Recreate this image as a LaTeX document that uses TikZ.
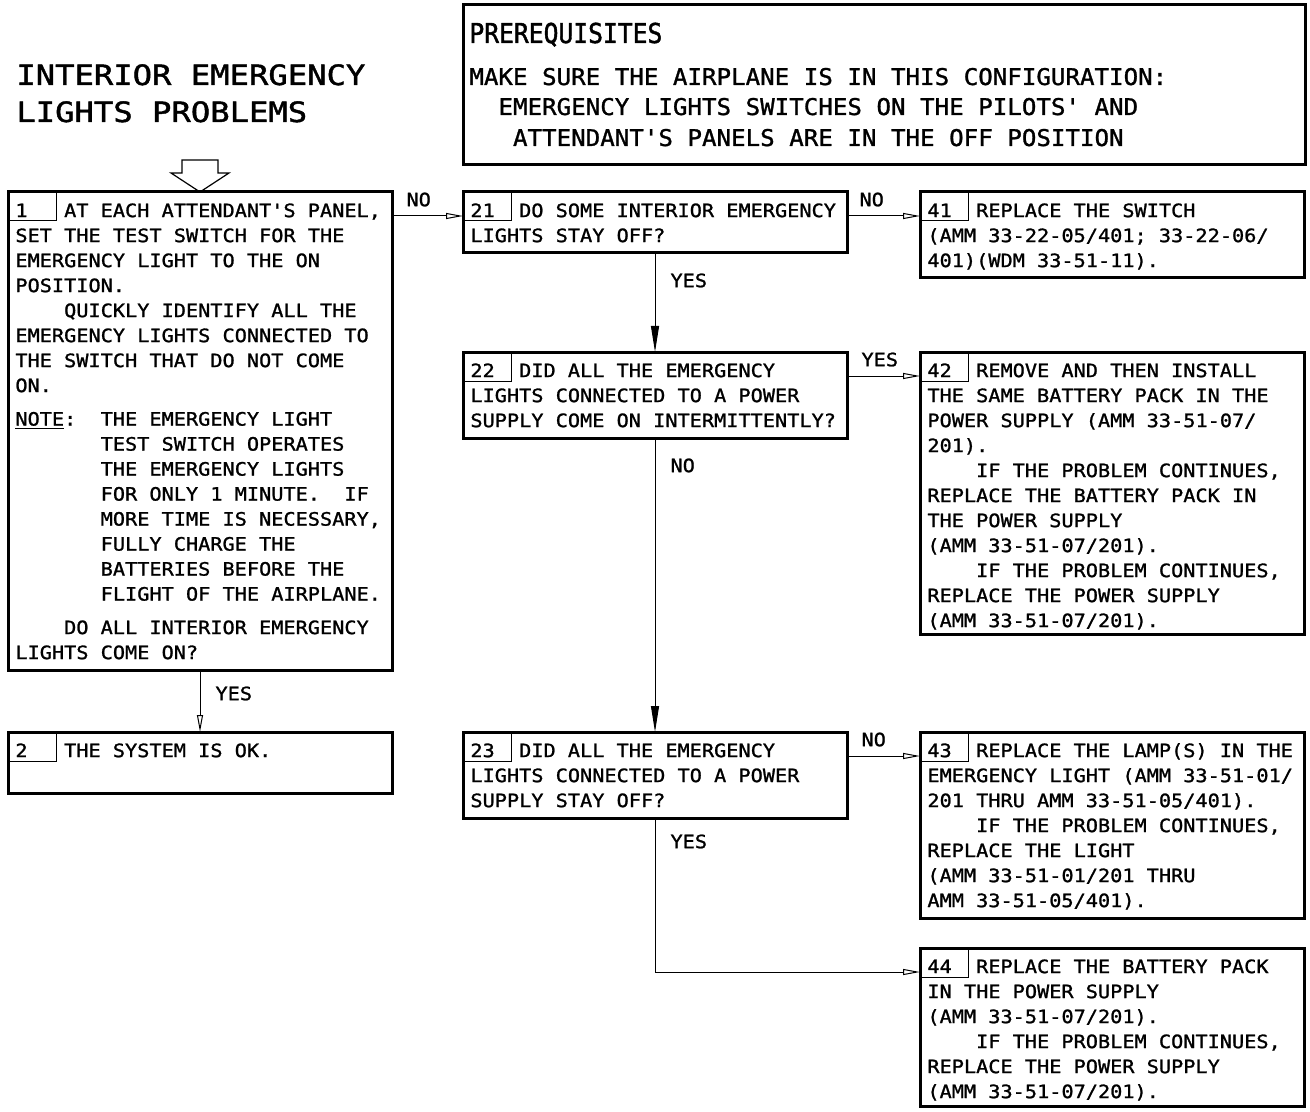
\documentclass[tikz,border=0pt]{standalone}
\usepackage{fontspec}
\usetikzlibrary{arrows.meta}
\newfontfamily\bodyfont[FakeStretch=1.1,FakeBold=1.2,Ligatures=TeXOff]{DejaVu Sans Mono}
\newfontfamily\titlefont[FakeStretch=1.15,FakeBold=1.5,Ligatures=TeXOff]{DejaVu Sans Mono}
\newfontfamily\prqfont[FakeStretch=1.05,FakeBold=1.2,Ligatures=TeXOff]{DejaVu Sans Mono}
\newfontfamily\prqhead[FakeStretch=0.9,FakeBold=1.5,Ligatures=TeXOff]{DejaVu Sans Mono}
\newcommand\cell[1]{\rlap{#1}\phantom{0000}}
\newcommand\ind{\phantom{0000}}
\newcommand\nind{\phantom{0000000}}
\newcommand\tstrut{\rule{0pt}{12.35pt}}
\frenchspacing

\begin{document}
\begin{tikzpicture}[x=0.5pt, y=-0.5pt,
  box/.style={draw, line width=1.5pt, inner sep=0pt, outer sep=0pt,
    minimum width=192pt, anchor=north west},
  txt/.style={inner sep=0pt, anchor=north west, align=left,
    font=\bodyfont\fontsize{9.2pt}{12.5pt}\selectfont},
  lbl/.style={inner sep=0pt, font=\bodyfont\fontsize{9.2pt}{12.5pt}\selectfont},
  link/.style={line width=0.5pt, -{Triangle[open, length=8.5pt, width=3pt]}},
  flow/.style={line width=0.5pt, -{Triangle[length=13pt, width=4pt]}},
  cellbox/.style={line width=0.5pt}]

  \fill[white] (0,0) rectangle (1310,1112);
  \useasboundingbox (0,0) rectangle (1310,1112);

  % heading and prerequisites
  \node[lbl, anchor=base west, font=\titlefont\fontsize{14pt}{18pt}\selectfont]
    (title1) at (16,85) {INTERIOR EMERGENCY};
  \node[lbl, anchor=base west, font=\titlefont\fontsize{14pt}{18pt}\selectfont]
    (title2) at (16,122) {LIGHTS PROBLEMS};

  \node[box, minimum width=421pt, minimum height=80pt] (prq) at (463,5) {};
  \node[lbl, anchor=base west, font=\prqhead\fontsize{13.7pt}{16pt}\selectfont]
    (prq1) at (469,43) {PREREQUISITES};
  \node[lbl, anchor=base west, font=\prqfont\fontsize{11.5pt}{14pt}\selectfont]
    (prq2) at (469,85) {MAKE SURE THE AIRPLANE IS IN THIS CONFIGURATION:};
  \node[lbl, anchor=base west, font=\prqfont\fontsize{11.5pt}{14pt}\selectfont]
    (prq3) at (469,115) {\phantom{00}EMERGENCY LIGHTS SWITCHES ON THE PILOTS' AND};
  \node[lbl, anchor=base west, font=\prqfont\fontsize{11.5pt}{14pt}\selectfont]
    (prq4) at (469,146) {\phantom{000}ATTENDANT'S PANELS ARE IN THE OFF POSITION};

  % first column
  \node[box, minimum height=239pt] (b1) at (8,192) {};
  \draw[cellbox] (b1.north west) rectangle ++(48,29);
  \node[txt] (t1) at ([xshift=3.5pt]b1.north west) {\tstrut\cell{1}AT EACH ATTENDANT'S PANEL,\\
    SET THE TEST SWITCH FOR THE\\
    EMERGENCY LIGHT TO THE ON\\
    POSITION.\\
    \ind QUICKLY IDENTIFY ALL THE\\
    EMERGENCY LIGHTS CONNECTED TO\\
    THE SWITCH THAT DO NOT COME\\
    ON.\\[4.25pt]
    \underline{NOTE}:\ \ THE EMERGENCY LIGHT\\
    \nind TEST SWITCH OPERATES\\
    \nind THE EMERGENCY LIGHTS\\
    \nind FOR ONLY 1 MINUTE.\ \ IF\\
    \nind MORE TIME IS NECESSARY,\\
    \nind FULLY CHARGE THE\\
    \nind BATTERIES BEFORE THE\\
    \nind FLIGHT OF THE AIRPLANE.\\[4.25pt]
    \ind DO ALL INTERIOR EMERGENCY\\
    LIGHTS COME ON?};
  \draw[line width=0.6pt] (b1.north) -- ++(29,-19) -- ++(-11,0) -- ++(0,-13)
    -- ++(-36,0) -- ++(0,13) -- ++(-11,0) -- cycle;

  \node[box, minimum height=30.5pt] (b2) at (8,732) {};
  \draw[cellbox] (b2.north west) rectangle ++(48,29);
  \node[txt] (t2) at ([xshift=3.5pt]b2.north west) {\tstrut\cell{2}THE SYSTEM IS OK.};

  % second column
  \node[box, minimum height=30.5pt] (b21) at (463,192) {};
  \draw[cellbox] (b21.north west) rectangle ++(48,29);
  \node[txt] (t21) at ([xshift=3.5pt]b21.north west) {\tstrut\cell{21}DO SOME INTERIOR EMERGENCY\\
    LIGHTS STAY OFF?};

  \node[box, minimum height=43pt] (b22) at (463,352) {};
  \draw[cellbox] (b22.north west) rectangle ++(48,29);
  \node[txt] (t22) at ([xshift=3.5pt]b22.north west) {\tstrut\cell{22}DID ALL THE EMERGENCY\\
    LIGHTS CONNECTED TO A POWER\\
    SUPPLY COME ON INTERMITTENTLY?};

  \node[box, minimum height=43pt] (b23) at (463,732) {};
  \draw[cellbox] (b23.north west) rectangle ++(48,29);
  \node[txt] (t23) at ([xshift=3.5pt]b23.north west) {\tstrut\cell{23}DID ALL THE EMERGENCY\\
    LIGHTS CONNECTED TO A POWER\\
    SUPPLY STAY OFF?};

  % third column
  \node[box, minimum height=43pt] (b41) at (920,192) {};
  \draw[cellbox] (b41.north west) rectangle ++(48,29);
  \node[txt] (t41) at ([xshift=3.5pt]b41.north west) {\tstrut\cell{41}REPLACE THE SWITCH\\
    (AMM 33-22-05/401; 33-22-06/\\
    401)(WDM 33-51-11).};

  \node[box, minimum height=141pt] (b42) at (920,352) {};
  \draw[cellbox] (b42.north west) rectangle ++(48,29);
  \node[txt] (t42) at ([xshift=3.5pt]b42.north west) {\tstrut\cell{42}REMOVE AND THEN INSTALL\\
    THE SAME BATTERY PACK IN THE\\
    POWER SUPPLY (AMM 33-51-07/\\
    201).\\
    \ind IF THE PROBLEM CONTINUES,\\
    REPLACE THE BATTERY PACK IN\\
    THE POWER SUPPLY\\
    (AMM 33-51-07/201).\\
    \ind IF THE PROBLEM CONTINUES,\\
    REPLACE THE POWER SUPPLY\\
    (AMM 33-51-07/201).};

  \node[box, minimum height=93pt] (b43) at (920,732) {};
  \draw[cellbox] (b43.north west) rectangle ++(48,29);
  \node[txt] (t43) at ([xshift=3.5pt]b43.north west) {\tstrut\cell{43}REPLACE THE LAMP(S) IN THE\\
    EMERGENCY LIGHT (AMM 33-51-01/\\
    201 THRU AMM 33-51-05/401).\\
    \ind IF THE PROBLEM CONTINUES,\\
    REPLACE THE LIGHT\\
    (AMM 33-51-01/201 THRU\\
    AMM 33-51-05/401).};

  \node[box, minimum height=79pt] (b44) at (920,948) {};
  \draw[cellbox] (b44.north west) rectangle ++(48,29);
  \node[txt] (t44) at ([xshift=3.5pt]b44.north west) {\tstrut\cell{44}REPLACE THE BATTERY PACK\\
    IN THE POWER SUPPLY\\
    (AMM 33-51-07/201).\\
    \ind IF THE PROBLEM CONTINUES,\\
    REPLACE THE POWER SUPPLY\\
    (AMM 33-51-07/201).};

  % connectors
  \draw[link] ([yshift=-12pt]b1.north east) -- node[lbl, pos=0, anchor=south west,
    xshift=7pt, yshift=4.5pt] (n1) {NO} ([yshift=-12pt]b21.north west);
  \draw[link] ([yshift=-12pt]b21.north east) -- node[lbl, pos=0, anchor=south west,
    xshift=6pt, yshift=4.5pt] (n21) {NO} ([yshift=-12pt]b41.north west);
  \draw[link] ([yshift=-12pt]b22.north east) -- node[lbl, pos=0, anchor=south west,
    xshift=7pt, yshift=4.5pt] (y22) {YES} ([yshift=-12pt]b42.north west);
  \draw[link] ([yshift=-12pt]b23.north east) -- node[lbl, pos=0, anchor=south west,
    xshift=7pt, yshift=4.5pt] (n23) {NO} ([yshift=-12pt]b43.north west);
  \draw[flow] (b21.south) -- node[lbl, pos=0, anchor=north west,
    xshift=7.5pt, yshift=-10pt] (y21) {YES} (b22.north);
  \draw[flow] (b22.south) -- node[lbl, pos=0, anchor=north west,
    xshift=7.5pt, yshift=-10pt] (n22) {NO} (b23.north);
  \draw[link] (b1.south) -- node[lbl, pos=0, anchor=north west,
    xshift=7.5pt, yshift=-8pt] (y1) {YES} (b2.north);
  \draw[link] (b23.south) |- node[lbl, pos=0, anchor=north west,
    xshift=7.5pt, yshift=-8pt] (y23) {YES} ([yshift=-12pt]b44.north west);
\end{tikzpicture}
\end{document}
